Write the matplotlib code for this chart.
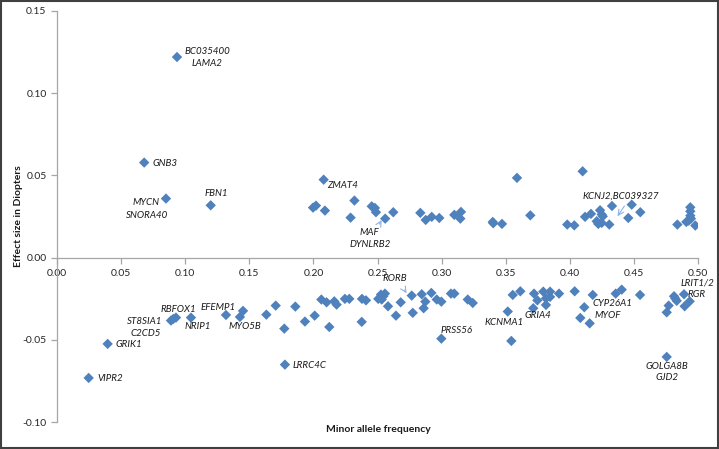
import matplotlib
matplotlib.use("Agg")
import matplotlib.pyplot as plt
from matplotlib.patches import Rectangle

# minor allele frequency / effect size (D)
maf_pos = [0.0936, 0.0680, 0.0850, 0.1199, 0.2080, 0.1997, 0.2020, 0.2090, 0.2320, 0.2290,
           0.2455, 0.2480, 0.2488, 0.2560, 0.2623, 0.2834, 0.2876, 0.2923, 0.2982, 0.3099,
           0.3151, 0.3146, 0.3399, 0.3403, 0.3471, 0.3588, 0.3692, 0.4100, 0.3980, 0.4035,
           0.4119, 0.4165, 0.4236, 0.4249, 0.4257, 0.4210, 0.4222, 0.4249, 0.4308, 0.4329,
           0.4456, 0.4483, 0.4550, 0.4839, 0.4909, 0.4940, 0.4940, 0.4940, 0.4945, 0.4927,
           0.4979]
eff_pos = [0.1220, 0.0578, 0.0359, 0.0318, 0.0474, 0.0304, 0.0316, 0.0286, 0.0347, 0.0243,
           0.0312, 0.0302, 0.0276, 0.0237, 0.0276, 0.0272, 0.0229, 0.0248, 0.0241, 0.0260,
           0.0278, 0.0237, 0.0217, 0.0209, 0.0205, 0.0485, 0.0257, 0.0525, 0.0201, 0.0196,
           0.0248, 0.0266, 0.0288, 0.0262, 0.0251, 0.0221, 0.0205, 0.0211, 0.0201, 0.0314,
           0.0241, 0.0322, 0.0276, 0.0201, 0.0217, 0.0306, 0.0282, 0.0255, 0.0237, 0.0225,
           0.0195]

maf_neg = [0.0247, 0.0395, 0.0889, 0.0907, 0.0928, 0.1045, 0.1318, 0.1427, 0.1451, 0.1633,
           0.1706, 0.1773, 0.1778, 0.1859, 0.1934, 0.2010, 0.2062, 0.2103, 0.2124, 0.2163,
           0.2181, 0.2246, 0.2280, 0.2379, 0.2410, 0.2377, 0.2506, 0.2527, 0.2545, 0.2558,
           0.2533, 0.2582, 0.2644, 0.2681, 0.2767, 0.2775, 0.2845, 0.2873, 0.2860, 0.2920,
           0.2962, 0.2998, 0.2998, 0.3073, 0.3099, 0.3204, 0.3243, 0.3516, 0.3555, 0.3614,
           0.3544, 0.3721, 0.3715, 0.3747, 0.3793, 0.3814, 0.3846, 0.3846, 0.3814, 0.3916,
           0.4038, 0.4179, 0.4113, 0.4082, 0.4155, 0.4358, 0.4405, 0.4548, 0.4813, 0.4823,
           0.4834, 0.4771, 0.4756, 0.4891, 0.4896, 0.4935, 0.4756]
eff_neg = [-0.0732, -0.0525, -0.0383, -0.0373, -0.0365, -0.0365, -0.0349, -0.0361, -0.0324, -0.0347,
           -0.0292, -0.0432, -0.0651, -0.0298, -0.0389, -0.0353, -0.0255, -0.0272, -0.0422, -0.0266,
           -0.0286, -0.0251, -0.0251, -0.0251, -0.0260, -0.0391, -0.0251, -0.0225, -0.0235, -0.0219,
           -0.0255, -0.0296, -0.0353, -0.0272, -0.0231, -0.0336, -0.0223, -0.0268, -0.0308, -0.0215,
           -0.0255, -0.0268, -0.0493, -0.0219, -0.0219, -0.0255, -0.0276, -0.0328, -0.0227, -0.0205,
           -0.0507, -0.0219, -0.0308, -0.0260, -0.0207, -0.0248, -0.0207, -0.0239, -0.0288, -0.0219,
           -0.0205, -0.0227, -0.0302, -0.0367, -0.0400, -0.0219, -0.0195, -0.0227, -0.0235, -0.0249,
           -0.0263, -0.0292, -0.0333, -0.0223, -0.0296, -0.0266, -0.0604]

# gene labels and where their text sits (centre, data units)
genes = ["BC035400", "LAMA2", "GNB3", "ZMAT4", "MYCN", "SNORA40", "FBN1", "MAF", "DYNLRB2",
         "KCNJ2,BC039327", "RORB", "PRSS56", "KCNMA1", "GRIA4", "CYP26A1", "MYOF", "LRIT1/2",
         "RGR", "GOLGA8B", "GJD2", "RBFOX1", "ST8SIA1", "C2CD5", "GRIK1", "VIPR2", "NRIP1",
         "EFEMP1", "MYO5B", "LRRC4C"]
gene_x = [0.117, 0.117, 0.0842, 0.2231, 0.0694, 0.0702, 0.124, 0.2434, 0.2441,
          0.440, 0.2636, 0.312, 0.3487, 0.3752, 0.4329, 0.4298, 0.4992,
          0.4992, 0.4758, 0.4758, 0.0944, 0.0686, 0.0694, 0.0562, 0.0413, 0.110,
          0.1256, 0.1466, 0.1973]
gene_y = [0.1253, 0.118, 0.0572, 0.0438, 0.0335, 0.0255, 0.0389, 0.0152, 0.0079,
          0.0371, -0.0128, -0.0444, -0.0395, -0.0353, -0.028, -0.0353, -0.0152,
          -0.0225, -0.0663, -0.073, -0.0316, -0.0389, -0.0462, -0.0529, -0.0736, -0.042,
          -0.0304, -0.042, -0.0657]

# small pointer arrows (tail -> head)
arrows = [((0.2504, 0.0189), (0.2543, 0.0243)),
          ((0.2699, -0.0182), (0.2738, -0.0231)),
          ((0.4438, 0.0328), (0.4360, 0.0237))]

plt.rcParams['font.family'] = ['Lato', 'DejaVu Sans']

fig = plt.figure(figsize=(7.19, 4.49), dpi=100)
ax = fig.add_axes([57 / 719, 27 / 449, 641 / 719, 411 / 449])

blue = '#4F81BD'
ax.scatter(maf_pos + maf_neg, eff_pos + eff_neg, marker='D', s=28, color=blue,
           edgecolors='none', zorder=3)

for g, x, y in zip(genes, gene_x, gene_y):
    ax.text(x, y, g, fontsize=7, style='italic', ha='center', va='center', color='#1a1a1a')

for tail, head in arrows:
    ax.annotate('', xy=head, xytext=tail,
                arrowprops=dict(arrowstyle='->', color='#8EB4E3', lw=0.8))

ax.set_xlim(0, 0.5)
ax.set_ylim(-0.10, 0.15)
ax.set_xticks([i * 0.05 for i in range(11)])
ax.set_yticks([-0.10, -0.05, 0.0, 0.05, 0.10, 0.15])
ax.set_xticklabels([f'{i * 0.05:.2f}' for i in range(11)])
ax.set_yticklabels([f'{v:.2f}' for v in [-0.10, -0.05, 0.0, 0.05, 0.10, 0.15]])

ax.spines['top'].set_visible(False)
ax.spines['right'].set_visible(False)
ax.spines['bottom'].set_position(('data', 0))
for s in ['left', 'bottom']:
    ax.spines[s].set_color('#A6A6A6')
    ax.spines[s].set_linewidth(0.9)
ax.tick_params(axis='both', colors='#A6A6A6', labelcolor='#262626', labelsize=7.5, length=4, width=0.9)
ax.tick_params(axis='x', pad=4)

fig.text(378 / 719, 1 - 430 / 449, 'Minor allele frequency', ha='center', va='center',
         fontsize=7.5, fontweight='bold', color='#1a1a1a')
fig.text(19 / 719, 1 - 216 / 449, 'Effect size in Diopters', ha='center', va='center',
         rotation=90, fontsize=7.5, fontweight='bold', color='#1a1a1a')

fig.patches.append(Rectangle((0.001, 0.002), 0.997, 0.995, transform=fig.transFigure,
                             fill=False, edgecolor='#404040', lw=1.5))

fig.savefig('out.png', dpi=100)
